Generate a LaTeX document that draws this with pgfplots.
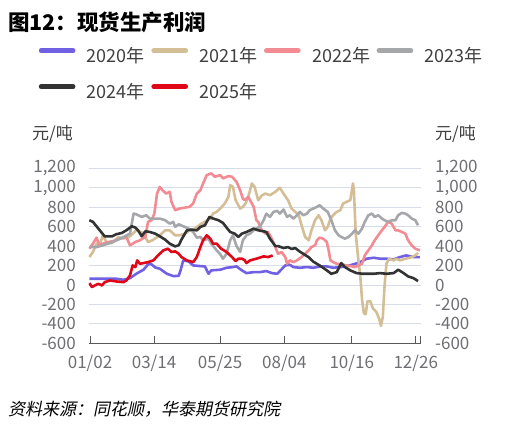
\documentclass[border=0pt]{standalone}
\usepackage{fontspec}
\setmainfont{Noto Sans CJK SC}
\newfontfamily\slantfont[FakeSlant=0.2]{Noto Sans CJK SC}
\usepackage{pgfplots}
\pgfplotsset{compat=1.18}
\definecolor{cA}{RGB}{112,96,228}
\definecolor{cB}{RGB}{212,190,150}
\definecolor{cC}{RGB}{242,140,146}
\definecolor{cD}{RGB}{165,167,170}
\definecolor{cE}{RGB}{51,51,51}
\definecolor{cF}{RGB}{224,8,24}
\definecolor{gridc}{RGB}{214,220,232}
\definecolor{axisc}{RGB}{89,89,89}
\definecolor{tickc}{RGB}{110,110,115}
\definecolor{legc}{RGB}{64,64,64}
\begin{document}
\begin{tikzpicture}
\useasboundingbox (0,0) rectangle (519pt,-427pt);
\node[anchor=base west, inner sep=0pt] at (8pt,-30.5pt) {\fontsize{21.5}{21.5}\selectfont\bfseries 图12：现货生产利润};
\node[anchor=base west, inner sep=0pt, text=legc] at (32pt,-140pt) {\fontsize{17}{17}\selectfont 元/吨};
\node[anchor=base west, inner sep=0pt, text=legc] at (435pt,-140pt) {\fontsize{17}{17}\selectfont 元/吨};
\node[anchor=base west, inner sep=0pt] at (8pt,-415pt) {\fontsize{17}{17}\selectfont\slantfont 资料来源：同花顺，华泰期货研究院};
\begin{axis}[
  at={(88.7pt,-343.3pt)}, anchor=south west,
  scale only axis, width=332.3pt, height=175pt,
  xmin=-0.7, xmax=367.3, ymin=-600, ymax=1200,
  axis x line*=bottom, axis y line*=left,
  y axis line style={draw=none},
  x axis line style={draw=axisc, line width=1pt},
  xtick={0.8,71.7,144.8,216,290.6,361.5,366.8},
  xticklabels={01/02,03/14,05/25,08/04,10/16,12/26,},
  xtick align=inside, major tick length=7pt,
  xtick style={draw=axisc, line width=1pt},
  ytick={-600,-400,...,1200},
  ytick style={draw=none},
  ymajorgrids, grid style={gridc, line width=0.8pt},
  /pgf/number format/assume math mode=true,
  /pgf/number format/1000 sep={,},
  yticklabel style={font=\fontsize{17}{17}\selectfont, text=tickc, inner sep=0pt, anchor=east, xshift=-12.7pt},
  xticklabel style={font=\fontsize{17}{17}\selectfont, text=tickc, inner sep=0pt, anchor=north, yshift=-11.7pt},
  legend columns=4,
  legend style={at={(-0.1508,1.6874)}, anchor=north west, draw=none, fill=none, inner sep=0pt,
    font=\fontsize{18}{18}\selectfont, text=legc, row sep=18pt, column sep=0pt,
    nodes={inner sep=0pt, text height=14pt, text depth=4pt},
    /tikz/every odd column/.append style={column sep=11.5pt}},
  legend image code/.code={\draw[#1, line width=5pt, line cap=round] (0pt,6.5pt) -- (31.7pt,6.5pt);},
  every axis plot/.append style={line width=2.6pt, line join=round},
]
\addplot[cA] coordinates {(0,64) (15,64) (30,64) (38,53) (45,70) (52,115) (60,157) (65,211) (68,218) (73,180) (78,167) (86,115) (93,91) (99,94) (101,150) (104,253) (110,242) (115,201) (123,194) (128,191) (132,115) (135,150) (145,157) (152,177) (159,184) (163,191) (169,150) (174,122) (182,132) (189,132) (196,143) (202,122) (208,115) (211,143) (217,201) (222,208) (226,184) (233,177) (241,184) (248,177) (256,191) (263,191) (270,177) (278,184) (285,191) (292,211) (300,235) (307,270) (315,280) (322,270) (329,270) (337,263) (344,287) (351,304) (359,287) (366,287)};
\addlegendentry{\makebox[64.4pt][l]{2020年}}
\addplot[cB] coordinates {(0,287) (4,339) (8,425) (11,400) (15,511) (19,440) (25,430) (32,490) (38,480) (45,500) (52,562) (58,540) (62,494) (65,442) (70,460) (78,511) (84,562) (89,562) (95,511) (100,511) (106,528) (111,562) (117,580) (123,624) (128,649) (134,683) (137,734) (141,752) (145,786) (150,838) (154,906) (156,1027) (159,1010) (162,872) (167,786) (170,803) (173,838) (176,906) (180,1044) (183,1010) (187,872) (191,920) (195,940) (200,923) (206,958) (211,1000) (215,940) (220,872) (224,786) (228,752) (232,717) (235,614) (239,494) (243,459) (246,562) (250,666) (254,717) (257,666) (261,562) (264,597) (267,683) (270,717) (274,752) (278,769) (281,838) (285,855) (289,872) (292,1044) (293,975) (295,528) (298,253) (300,100) (302,-150) (304,-290) (306,-300) (308,-170) (311,-165) (314,-240) (318,-280) (321,-350) (323,-420) (325,-330) (327,0) (329,218) (332,270) (337,253) (340,270) (344,253) (350,270) (355,280) (361,304) (364,330)};
\addlegendentry{\makebox[64.4pt][l]{2021年}}
\addplot[cC] coordinates {(0,373) (4,425) (8,487) (11,408) (15,425) (21,442) (27,452) (34,476) (41,494) (45,408) (51,442) (56,459) (62,494) (65,649) (69,666) (72,734) (75,940) (78,1009) (81,975) (85,940) (89,958) (91,855) (95,769) (100,786) (106,796) (111,803) (115,838) (119,940) (123,975) (126,1044) (130,1130) (135,1147) (139,1113) (145,1130) (148,1096) (154,1120) (158,1113) (163,1061) (167,975) (170,889) (172,872) (176,906) (179,855) (182,803) (185,666) (187,649) (191,562) (195,528) (198,545) (202,476) (206,390) (209,321) (213,339) (217,287) (219,218) (222,253) (226,235) (230,253) (235,287) (239,321) (243,356) (246,390) (250,408) (252,459) (255,487) (259,476) (263,442) (265,356) (267,253) (270,235) (274,218) (280,211) (285,201) (291,191) (294,184) (298,201) (302,218) (305,304) (309,356) (313,408) (316,459) (320,511) (324,562) (327,597) (331,649) (335,631) (339,562) (342,562) (346,545) (350,528) (353,459) (357,408) (361,373) (366,356)};
\addlegendentry{\makebox[64.4pt][l]{2022年}}
\addplot[cD] coordinates {(0,390) (8,390) (15,408) (23,432) (30,459) (38,494) (45,528) (49,734) (52,727) (58,700) (63,717) (67,683) (73,683) (78,683) (84,666) (89,631) (93,649) (95,597) (99,624) (104,604) (110,580) (115,545) (119,487) (123,494) (126,459) (132,476) (135,425) (141,356) (145,315) (148,270) (152,321) (156,459) (159,511) (163,400) (167,340) (170,459) (174,511) (178,528) (182,562) (187,590) (189,600) (193,666) (196,734) (200,700) (204,752) (208,762) (211,734) (215,776) (219,700) (222,717) (226,683) (230,717) (233,752) (237,717) (241,734) (244,769) (248,786) (252,803) (255,820) (259,786) (264,752) (268,666) (272,562) (276,511) (279,494) (283,476) (287,494) (291,528) (294,562) (298,528) (302,580) (305,649) (309,717) (313,734) (316,700) (320,717) (324,683) (327,666) (331,649) (335,666) (339,666) (342,717) (346,741) (350,734) (353,717) (357,683) (361,666) (364,614)};
\addlegendentry{\makebox[64.4pt][l]{2023年}}
\addplot[cE] coordinates {(0,666) (4,649) (10,580) (17,500) (25,500) (30,522) (36,535) (41,562) (47,604) (51,590) (54,562) (58,501) (62,552) (67,545) (73,528) (78,501) (84,466) (89,425) (95,397) (99,408) (102,466) (108,562) (113,569) (119,562) (123,597) (128,614) (133,700) (137,683) (143,666) (148,638) (152,590) (156,545) (161,528) (165,494) (169,528) (174,545) (178,562) (182,580) (187,562) (193,552) (196,545) (200,476) (206,400) (209,400) (215,380) (220,390) (224,370) (228,380) (232,350) (237,320) (243,285) (248,240) (256,195) (263,150) (268,115) (274,132) (279,225) (283,184) (289,150) (296,122) (303,115) (315,115) (322,122) (329,115) (337,122) (342,157) (348,122) (353,88) (359,70) (364,40)};
\addlegendentry{\makebox[64.4pt][l]{2024年}}
\addplot[cF] coordinates {(0,19) (3,-22) (6,-5) (10,12) (14,-5) (17,29) (23,46) (30,36) (38,29) (41,46) (45,98) (48,201) (51,184) (53,253) (56,218) (60,225) (65,235) (71,253) (76,304) (82,356) (87,373) (91,339) (95,346) (99,321) (102,287) (108,253) (115,235) (119,287) (123,390) (126,459) (130,511) (134,476) (137,425) (141,425) (146,373) (152,339) (158,287) (162,246) (165,270) (169,270) (172,255) (174,225) (178,253) (185,270) (193,294) (198,287) (203,304)};
\addlegendentry{\makebox[64.4pt][l]{2025年}}
\end{axis}
\begin{axis}[
  at={(88.7pt,-343.3pt)}, anchor=south west,
  scale only axis, width=332.3pt, height=175pt,
  xmin=-0.7, xmax=367.3, ymin=-600, ymax=1200,
  axis x line=none, axis y line*=right,
  y axis line style={draw=none},
  ytick={-600,-400,...,1200},
  ytick style={draw=none},
  /pgf/number format/assume math mode=true,
  /pgf/number format/1000 sep={,},
  yticklabel style={font=\fontsize{17}{17}\selectfont, text=tickc, inner sep=0pt, anchor=west, xshift=14pt},
]
\addplot[draw=none] coordinates {(0,0)};
\end{axis}
\end{tikzpicture}
\end{document}
